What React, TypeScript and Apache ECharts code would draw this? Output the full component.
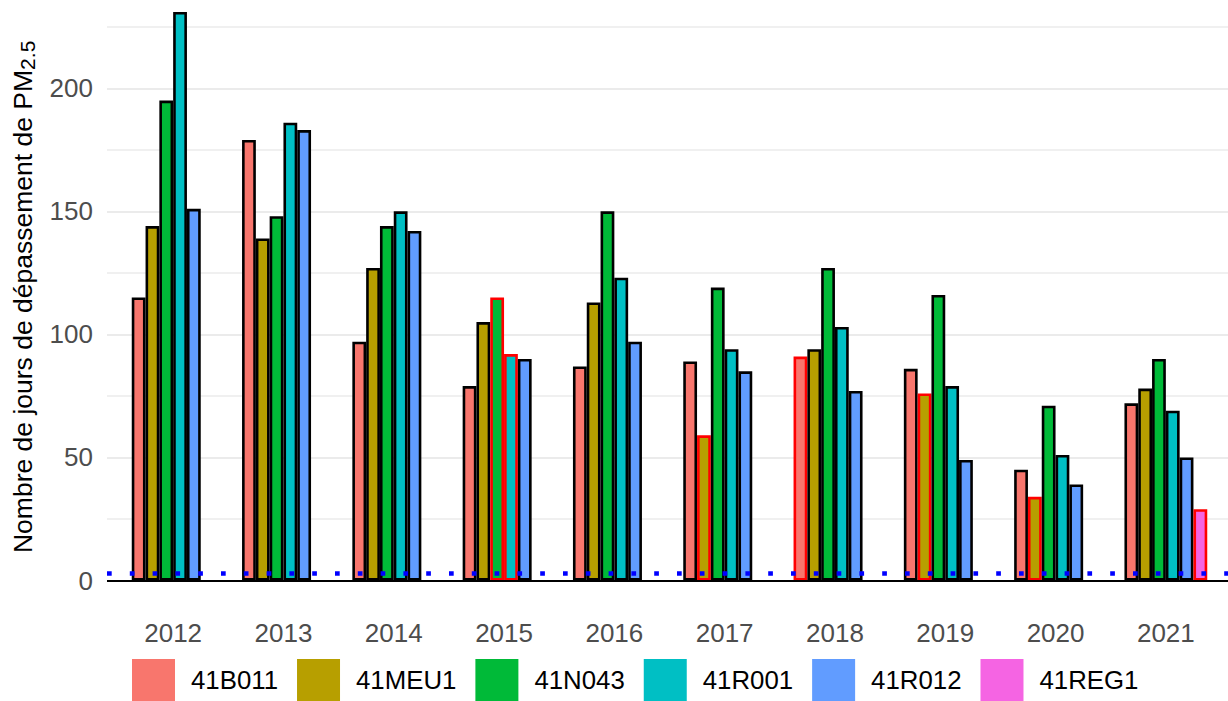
import React, { useEffect, useRef } from "react";
import * as echarts from "echarts";

const years = ["2012", "2013", "2014", "2015", "2016", "2017", "2018", "2019", "2020", "2021"];
const stations = ["41B011", "41MEU1", "41N043", "41R001", "41R012", "41REG1"];
const colors = ["#F8766D", "#B79F00", "#00BA38", "#00BFC4", "#619CFF", "#F564E3"];

const s41B011 = [115, 179, 97, 79, 87, 89, 91, 86, 45, 72];
const s41MEU1 = [144, 139, 127, 105, 113, 59, 94, 76, 34, 78];
const s41N043 = [195, 148, 144, 115, 150, 119, 127, 116, 71, 90];
const s41R001 = [231, 186, 150, 92, 123, 94, 103, 79, 51, 69];
const s41R012 = [151, 183, 142, 90, 97, 85, 77, 49, 39, 50];
const s41REG1 = [null, null, null, null, null, null, null, null, null, 29];

// years whose bar is outlined in red, per station
const red41B011 = ["2018"];
const red41MEU1 = ["2017", "2019", "2020"];
const red41N043 = ["2015"];
const red41R001 = ["2015"];
const red41R012: string[] = [];
const red41REG1 = ["2021"];

const zeroLine = 0;
const thresholdLine = 3;

const yTicksMajor = 50;
const yMax = 250;

const FONT = "'Liberation Sans', Arial, sans-serif";

export default function App() {
  const ref = useRef<HTMLDivElement>(null);

  useEffect(() => {
    if (!ref.current) return;
    const chart = echarts.init(ref.current, null, { renderer: "svg" });
    const values = [s41B011, s41MEU1, s41N043, s41R001, s41R012, s41REG1];
    const reds = [red41B011, red41MEU1, red41N043, red41R001, red41R012, red41REG1];

    const top = -34.8;
    const bottom = 120.5;

    const barSeries = stations.map((name, i) => ({
      name,
      type: "bar",
      xAxisIndex: 0,
      yAxisIndex: 0,
      barWidth: 13.8,
      barGap: "0%",
      itemStyle: { color: colors[i], borderColor: "#000", borderWidth: 2.6 },
      data: values[i].map((v, j) =>
        v == null
          ? null
          : reds[i].includes(years[j])
          ? { value: v, itemStyle: { borderColor: "#FF0000" } }
          : v
      ),
      z: 2,
    }));

    const option: any = {
      animation: false,
      textStyle: { fontFamily: FONT },
      grid: [
        { left: 118, right: 7, top, bottom, outerBoundsMode: "none", containLabel: false },
        { left: 107, right: 0, top, bottom, outerBoundsMode: "none", containLabel: false },
      ],
      xAxis: [
        {
          type: "category",
          gridIndex: 0,
          data: years,
          axisLine: { show: false },
          axisTick: { show: false },
          splitLine: { show: false },
          axisLabel: {
            fontSize: 26,
            lineHeight: 26,
            color: "#4D4D4D",
            margin: 39,
            fontFamily: FONT,
          },
        },
        { type: "value", gridIndex: 1, min: 0, max: 1, show: false },
      ],
      yAxis: [
        { type: "value", gridIndex: 0, min: 0, max: yMax, show: false },
        {
          type: "value",
          gridIndex: 1,
          min: 0,
          max: yMax,
          interval: yTicksMajor,
          axisLine: { show: false },
          axisTick: { show: false },
          axisLabel: {
            fontSize: 26,
            color: "#4D4D4D",
            margin: 14,
            fontFamily: FONT,
            showMaxLabel: false,
          },
          splitLine: { show: true, lineStyle: { color: "#EBEBEB", width: 2 } },
          minorTick: { show: false, splitNumber: 2 },
          minorSplitLine: { show: true, lineStyle: { color: "#EBEBEB", width: 1.5 } },
          name: "{m|Nombre de jours de dépassement de PM}{s|2.5}",
          nameLocation: "middle",
          nameRotate: 90,
          nameGap: 69,
          nameTextStyle: {
            color: "#000",
            fontFamily: FONT,
            fontSize: 26.5,
            padding: [0, 48, 0, 0],
            rich: {
              m: { fontSize: 26.5, lineHeight: 31, color: "#000", fontFamily: FONT },
              s: { fontSize: 21, lineHeight: 16, verticalAlign: "bottom", color: "#000", fontFamily: FONT },
            },
          },
        },
      ],
      legend: {
        data: stations,
        left: 132,
        top: 659,
        padding: 0,
        itemWidth: 43,
        itemHeight: 42,
        itemGap: 19,
        icon: "rect",
        selectedMode: false,
        itemStyle: { borderWidth: 0 },
        textStyle: { fontSize: 25.8, color: "#000", fontFamily: FONT, padding: [0, 0, 0, 11] },
      },
      series: [
        ...barSeries,
        {
          type: "line",
          xAxisIndex: 1,
          yAxisIndex: 1,
          data: [
            [0, zeroLine],
            [1, zeroLine],
          ],
          showSymbol: false,
          symbol: "none",
          lineStyle: { width: 0, opacity: 0 },
          silent: true,
          z: 5,
          markLine: {
            silent: true,
            symbol: "none",
            label: { show: false },
            animation: false,
            z: 5,
            data: [
              { yAxis: zeroLine, lineStyle: { color: "#000", width: 2.2, type: "solid" } },
              {
                yAxis: thresholdLine,
                lineStyle: { color: "#0000FF", width: 4.7, type: [4.7, 18.1] },
              },
            ],
          },
        },
      ],
    };
    chart.setOption(option);
    return () => chart.dispose();
  }, []);

  return (
    <div
      ref={ref}
      style={{ position: "fixed", left: 0, top: 0, width: "1228px", height: "701px", background: "#fff" }}
    />
  );
}
